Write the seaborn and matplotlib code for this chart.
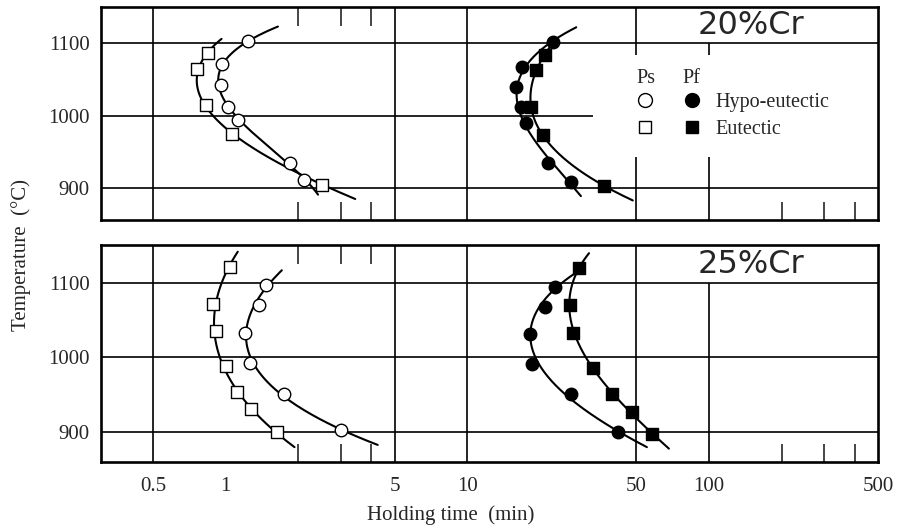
import numpy as np
import pandas as pd
import matplotlib
matplotlib.use("Agg")
import matplotlib.pyplot as plt
import seaborn as sns
from matplotlib.legend_handler import HandlerTuple
from matplotlib.lines import Line2D
from matplotlib.patches import Rectangle
from matplotlib.ticker import NullFormatter

# ---- measured start times (Ps) and finish times (Pf), holding time in min ----
# 20 % Cr
cr20_ps_hypo_T = [1103, 1072, 1042, 1012, 994, 935, 911]
cr20_ps_hypo_t = [1.24, 0.97, 0.96, 1.02, 1.12, 1.84, 2.12]
cr20_ps_eut_T = [1086, 1065, 1015, 975, 905]
cr20_ps_eut_t = [0.845, 0.76, 0.833, 1.06, 2.51]
cr20_pf_hypo_T = [1102, 1067, 1040, 1012, 990, 935, 909]
cr20_pf_hypo_t = [22.6, 16.9, 15.9, 16.7, 17.5, 21.5, 26.8]
cr20_pf_eut_T = [1084, 1063, 1012, 973, 903]
cr20_pf_eut_t = [20.9, 19.3, 18.4, 20.5, 36.9]

# 25 % Cr
cr25_ps_hypo_T = [1097, 1070, 1033, 992, 951, 902]
cr25_ps_hypo_t = [1.47, 1.37, 1.20, 1.26, 1.74, 3.01]
cr25_ps_eut_T = [1122, 1072, 1035, 988, 953, 930, 899]
cr25_ps_eut_t = [1.04, 0.89, 0.91, 1.00, 1.11, 1.27, 1.63]
cr25_pf_hypo_T = [1095, 1068, 1031, 991, 950, 899]
cr25_pf_hypo_t = [23.0, 20.9, 18.2, 18.5, 26.9, 42.2]
cr25_pf_eut_T = [1120, 1070, 1033, 985, 951, 926, 897]
cr25_pf_eut_t = [28.9, 26.7, 27.4, 33.2, 39.5, 48.2, 58.0]

panel_titles = ["20%Cr", "25%Cr"]
x_major = [0.5, 1, 5, 10, 50, 100, 500]
x_major_labels = ["0.5", "1", "5", "10", "50", "100", "500"]
x_minor_both = [2, 3, 4]
x_minor_bottom = [200, 300, 400]
y_ticks = [900, 1000, 1100]
grid_x_full = [0.5, 5, 10, 50]
grid_x_short = [100]          # stops at the 1100 line, below the title box

sns.set_style("white")
plt.rcParams["font.family"] = ["Liberation Serif", "DejaVu Serif"]

SERIF = ["Liberation Serif", "DejaVu Serif"]
LW_FRAME = 1.9
LW_GRID = 1.2
MS = 9


def fitted_curve(T, t, deg=3, ext_lo=20, ext_hi=20, n=200):
    """Smooth C-curve: cubic in log(time) versus temperature."""
    T = np.asarray(T, float)
    lt = np.log10(np.asarray(t, float))
    Tc = T.mean()
    coef = np.polyfit(T - Tc, lt, deg)
    Tg = np.linspace(T.min() - ext_lo, T.max() + ext_hi, n)
    return pd.DataFrame({"T": Tg, "t": 10 ** np.polyval(coef, Tg - Tc)})


def draw_series(ax, T, t, marker, filled):
    curve = fitted_curve(T, t)
    sns.lineplot(data=curve, x="t", y="T", sort=False, estimator=None,
                 color="black", lw=1.5, ax=ax, zorder=2)
    sns.scatterplot(x=t, y=T, marker=marker, s=MS ** 2,
                    color="black" if filled else "white",
                    edgecolor="black", linewidth=1.0, ax=ax, zorder=3)


fig = plt.figure(figsize=(8.99, 5.30), dpi=100)
ax_top = fig.add_axes([0.1123, 0.5849, 0.8643, 0.4019])
ax_bot = fig.add_axes([0.1123, 0.1283, 0.8643, 0.4094])

panels = [
    (ax_top, (856, 1150), [
        (cr20_ps_hypo_T, cr20_ps_hypo_t, "o", False),
        (cr20_ps_eut_T, cr20_ps_eut_t, "s", False),
        (cr20_pf_hypo_T, cr20_pf_hypo_t, "o", True),
        (cr20_pf_eut_T, cr20_pf_eut_t, "s", True),
    ]),
    (ax_bot, (859, 1151), [
        (cr25_ps_hypo_T, cr25_ps_hypo_t, "o", False),
        (cr25_ps_eut_T, cr25_ps_eut_t, "s", False),
        (cr25_pf_hypo_T, cr25_pf_hypo_t, "o", True),
        (cr25_pf_eut_T, cr25_pf_eut_t, "s", True),
    ]),
]

for i, (ax, ylim, series) in enumerate(panels):
    ax.set_xscale("log")
    ax.set_xlim(0.305, 495)
    ax.set_ylim(*ylim)

    # grid drawn as plain rules
    for y in y_ticks:
        ax.axhline(y, color="black", lw=LW_GRID, zorder=1)
    for x in grid_x_full:
        ax.axvline(x, color="black", lw=LW_GRID, zorder=1)
    for x in grid_x_short:
        ax.vlines(x, ylim[0], 1100, color="black", lw=LW_GRID, zorder=1)

    for T, t, marker, filled in series:
        draw_series(ax, T, t, marker, filled)

    ax.set_xlabel("")
    ax.set_ylabel("")
    ax.set_yticks(y_ticks)
    ax.set_yticklabels([str(v) for v in y_ticks], fontsize=15, family=SERIF)
    ax.tick_params(axis="y", length=0, pad=8)

    ax.set_xticks(x_major)
    ax.set_xticklabels(x_major_labels, fontsize=15, family=SERIF)
    ax.set_xticks(x_minor_both + x_minor_bottom, minor=True)
    ax.xaxis.set_minor_formatter(NullFormatter())
    ax.tick_params(axis="x", which="major", length=0, pad=11,
                   labelbottom=(i == 1))
    ax.tick_params(axis="x", which="minor", direction="in", length=13,
                   width=1.2, bottom=True, top=False)

    sec = ax.secondary_xaxis("top")
    sec.set_xticks([])
    sec.set_xticks(x_minor_both, minor=True)
    sec.xaxis.set_minor_formatter(NullFormatter())
    sec.tick_params(axis="x", which="minor", direction="in", length=14,
                    width=1.2)
    for sp in sec.spines.values():
        sp.set_visible(False)

    for sp in ax.spines.values():
        sp.set_visible(True)
        sp.set_linewidth(LW_FRAME)
        sp.set_color("black")
        sp.set_zorder(6)

    ax.text(0.8366, 0.915 if i == 0 else 0.908, panel_titles[i],
            transform=ax.transAxes, ha="center", va="center",
            fontsize=23, family=["DejaVu Sans"])

# legend area in the upper panel
ax_top.add_patch(Rectangle((0.633, 0.296), 0.367, 0.479,
                           transform=ax_top.transAxes, facecolor="white",
                           edgecolor="none", zorder=1.5))

LMS = 10
open_c = Line2D([], [], marker="o", ls="", mfc="white", mec="black", ms=LMS, mew=1.0)
full_c = Line2D([], [], marker="o", ls="", mfc="black", mec="black", ms=LMS)
open_s = Line2D([], [], marker="s", ls="", mfc="white", mec="black", ms=LMS - 1, mew=1.0)
full_s = Line2D([], [], marker="s", ls="", mfc="black", mec="black", ms=LMS - 1)

ax_top.legend(handles=[(open_c, full_c), (open_s, full_s)],
              labels=["Hypo-eutectic", "Eutectic"],
              handler_map={tuple: HandlerTuple(ndivide=None, pad=0)},
              loc="upper left", bbox_to_anchor=(0.670, 0.596),
              frameon=False, borderpad=0, borderaxespad=0,
              handlelength=4.67, handletextpad=0.0, labelspacing=0.4,
              prop={"family": SERIF, "size": 14.5})
ax_top.text(0.7014, 0.662, "Ps", transform=ax_top.transAxes, ha="center",
            va="center", fontsize=14.5, family=SERIF)
ax_top.text(0.7593, 0.662, "Pf", transform=ax_top.transAxes, ha="center",
            va="center", fontsize=14.5, family=SERIF)

fig.text(21 / 899, 1 - 255 / 530, "Temperature  (°C)", rotation=90,
         ha="center", va="center", fontsize=15, family=SERIF)
fig.text(451 / 899, 1 - 515 / 530, "Holding time  (min)",
         ha="center", va="center", fontsize=15, family=SERIF)

fig.savefig("out.png", dpi=100)
